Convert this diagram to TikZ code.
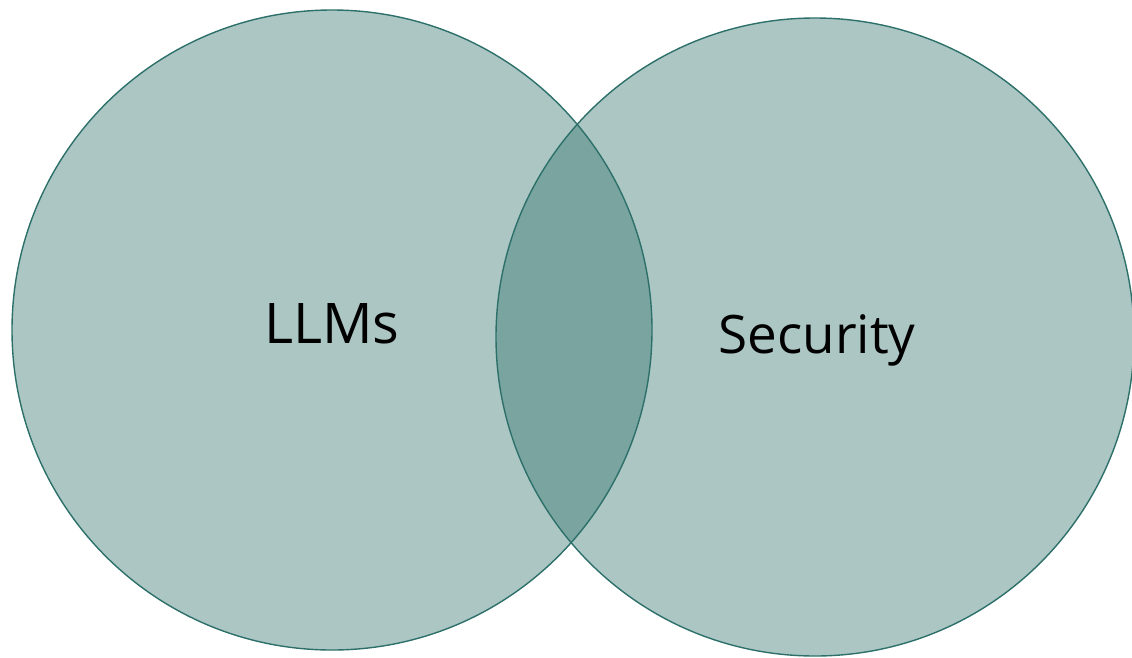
\documentclass[tikz,border=0pt]{standalone}
\usepackage{fontspec}
\setmainfont{Open Sans}
\definecolor{teal1}{HTML}{2D706A}
\begin{document}
\begin{tikzpicture}[x=1pt,y=-1pt,
  setcircle/.style={circle, draw=teal1, line width=1.4pt, fill=teal1, fill opacity=0.4, draw opacity=1, inner sep=0pt},
  label/.style={text=black, inner sep=0pt, anchor=base}]
\useasboundingbox (0,0) rectangle (1132,657);
\node[setcircle, minimum size=640pt] (llm) at (332,330) {};
\node[setcircle, minimum size=638pt] (sec) at (815,337) {};
\node[label, font=\fontsize{56}{60}\selectfont] (llmt) at (332,343) {LLMs};
\node[label, font=\fontsize{53}{58}\selectfont] (sect) at (817,353) {Security};
\end{tikzpicture}
\end{document}
